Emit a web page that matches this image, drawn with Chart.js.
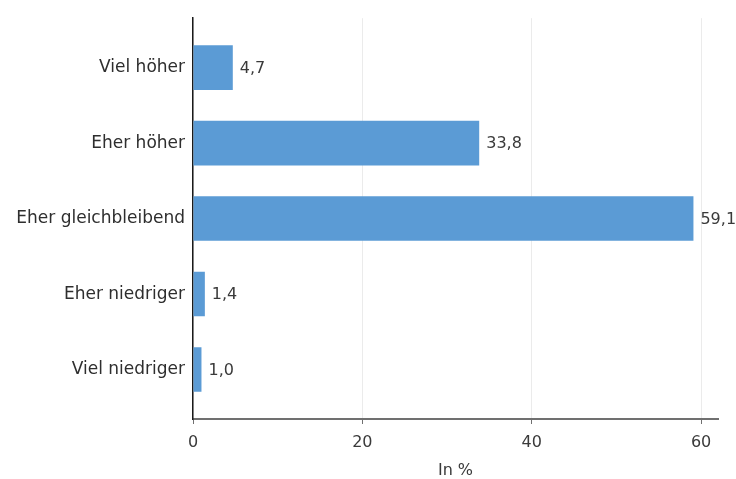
<!DOCTYPE html>
<html>
<head>
  <script src="https://cdn.jsdelivr.net/npm/chart.js"></script>
  <style>
    body { margin: 0; background: #fff; }
    #wrap { width: 736px; height: 479px; }
  </style>
</head>
<body>
  <div id="wrap"><canvas id="chart"></canvas></div>
  <script>
    const categories = ['Viel höher', 'Eher höher', 'Eher gleichbleibend', 'Eher niedriger', 'Viel niedriger'];
    const values = [4.7, 33.8, 59.1, 1.4, 1.0];
    const xTicks = [0, 20, 40, 60];

    const FONT = "'DejaVu Sans', sans-serif";

    // value labels at the end of each bar, German decimal comma
    const barLabels = {
      id: 'barLabels',
      afterDatasetsDraw(chart) {
        const ctx = chart.ctx;
        const meta = chart.getDatasetMeta(0);
        ctx.save();
        ctx.font = '16px ' + FONT;
        ctx.fillStyle = '#3a3a3a';
        ctx.textBaseline = 'middle';
        meta.data.forEach((bar, i) => {
          ctx.fillText(values[i].toFixed(1).replace('.', ','), bar.x + 7, bar.y + 1);
        });
        ctx.restore();
      }
    };

    new Chart(document.getElementById('chart'), {
      type: 'bar',
      data: {
        labels: categories,
        datasets: [{
          data: values,
          backgroundColor: '#5b9bd5',
          categoryPercentage: 0.59,
          barPercentage: 1
        }]
      },
      options: {
        indexAxis: 'y',
        responsive: true,
        maintainAspectRatio: false,
        animation: false,
        layout: { padding: { top: 13, right: 18, left: 0, bottom: 0 } },
        plugins: {
          legend: { display: false },
          tooltip: { enabled: false }
        },
        scales: {
          x: {
            min: 0,
            max: 62,
            afterBuildTicks: s => { s.ticks = xTicks.map(v => ({ value: v })); },
            afterFit: s => { s.height = 60; },
            grid: { color: '#ebebeb', tickColor: '#707070', tickLength: 5, lineWidth: 1 },
            border: { color: '#707070', width: 2 },
            ticks: { color: '#3a3a3a', font: { family: FONT, size: 16 }, padding: 9 },
            title: { display: true, text: 'In %', color: '#3a3a3a', font: { family: FONT, size: 16 }, padding: { top: 2, bottom: -1 } }
          },
          y: {
            afterFit: s => { s.width = 193; },
            afterBuildTicks: s => { s._startValue -= 0.155; s._valueRange += 0.31; },
            grid: { display: false, drawTicks: false },
            border: { color: '#1a1a1a', width: 1.5 },
            ticks: { color: '#2e2e2e', font: { family: FONT, size: 17 }, padding: 8 }
          }
        }
      },
      plugins: [barLabels]
    });
  </script>
</body>
</html>
